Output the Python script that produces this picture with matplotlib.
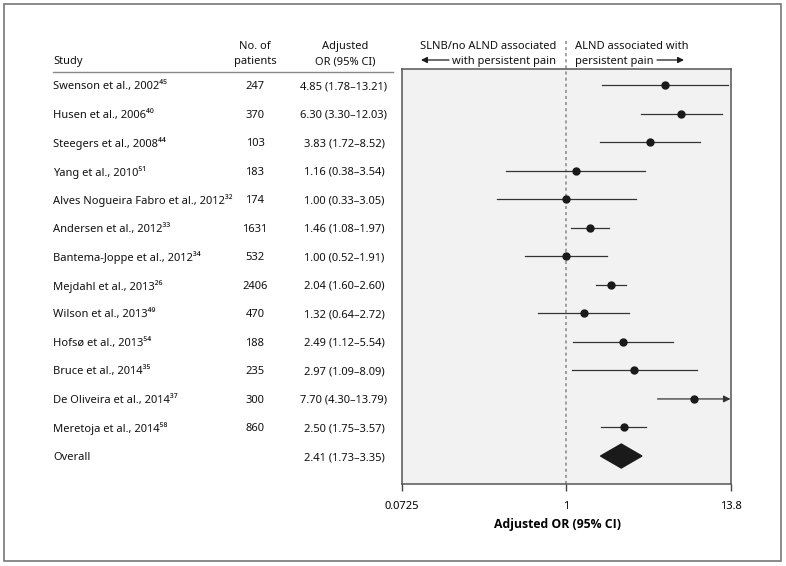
import matplotlib
matplotlib.use('Agg')
import matplotlib.pyplot as plt
import matplotlib.transforms as mtransforms
from matplotlib.patches import Rectangle, Polygon

plt.rcParams['font.family'] = ['Noto Sans', 'DejaVu Sans']

# data
studies = ['Swenson et al., 2002', 'Husen et al., 2006', 'Steegers et al., 2008',
           'Yang et al., 2010', 'Alves Nogueira Fabro et al., 2012', 'Andersen et al., 2012',
           'Bantema-Joppe et al., 2012', 'Mejdahl et al., 2013', 'Wilson et al., 2013',
           'Hofsø et al., 2013', 'Bruce et al., 2014', 'De Oliveira et al., 2014',
           'Meretoja et al., 2014']
refs = ['45', '40', '44', '51', '32', '33', '34', '26', '49', '54', '35', '37', '58']
patients = [247, 370, 103, 183, 174, 1631, 532, 2406, 470, 188, 235, 300, 860]
or_vals = [4.85, 6.30, 3.83, 1.16, 1.00, 1.46, 1.00, 2.04, 1.32, 2.49, 2.97, 7.70, 2.50]
ci_lo = [1.78, 3.30, 1.72, 0.38, 0.33, 1.08, 0.52, 1.60, 0.64, 1.12, 1.09, 4.30, 1.75]
ci_hi = [13.21, 12.03, 8.52, 3.54, 3.05, 1.97, 1.91, 2.60, 2.72, 5.54, 8.09, 13.79, 3.57]
truncated = [False] * 11 + [True, False]
overall_or, overall_lo, overall_hi = 2.41, 1.73, 3.35
xticks = [0.0725, 1, 13.8]
xticklabels = ['0.0725', '1', '13.8']

SUP = str.maketrans('0123456789', '⁰¹²³⁴⁵⁶⁷⁸⁹')

W, H = 786, 566
fig = plt.figure(figsize=(W / 100, H / 100), dpi=100)


def fx(px):
    return px / W


def row(py):
    # pixel y -> row units (row 0 at y=85, spacing 28.54)
    return (py - 85) / 28.54


ax = fig.add_axes([fx(402), 1 - 484 / H, fx(730.5) - fx(402), (484 - 69) / H])
ax.set_xscale('log')
ax.set_xlim(0.0725, 13.8)
ax.set_ylim(row(484), row(69))
ax.set_facecolor('#f2f2f2')
for s in ['top', 'right', 'left', 'bottom']:
    ax.spines[s].set_color('#555555')
    ax.spines[s].set_linewidth(1.1)
ax.set_yticks([])
ax.set_xticks(xticks)
ax.set_xticklabels(xticklabels, fontsize=8)
ax.xaxis.set_minor_locator(matplotlib.ticker.NullLocator())
ax.tick_params(axis='x', direction='out', length=5, width=1, color='#444444', pad=7)
ax.set_xlabel('Adjusted OR (95% CI)', fontsize=8.8, fontweight='bold', labelpad=4,
              family=['Open Sans', 'DejaVu Sans'])
ax.xaxis.set_label_coords((557 - 402) / 328.5, -0.082)

# reference line at OR = 1
ax.plot([1, 1], [row(484), row(38)], ls=(0, (2, 2)), color='#888888', lw=1.1, clip_on=False, zorder=1)

lc = '#333333'
for i in range(len(studies)):
    if truncated[i]:
        ax.annotate('', xy=(13.8, i), xytext=(ci_lo[i], i),
                    arrowprops=dict(arrowstyle='-|>', color=lc, lw=0.9, mutation_scale=10,
                                    shrinkA=0, shrinkB=0), annotation_clip=False)
    else:
        ax.plot([ci_lo[i], ci_hi[i]], [i, i], color=lc, lw=0.9, zorder=2)
    ax.plot(or_vals[i], i, 'o', color='#1a1a1a', ms=5, zorder=3)

n = len(studies)
dia = Polygon([(overall_lo, n), (overall_or, n - 0.42), (overall_hi, n), (overall_or, n + 0.42)],
              closed=True, facecolor='#1a1a1a', edgecolor='#1a1a1a')
ax.add_patch(dia)

# left-hand table
tr = mtransforms.blended_transform_factory(fig.transFigure, ax.transData)
fs = 8
va = 'center_baseline'
for i in range(n):
    ax.text(fx(53), i, studies[i] + refs[i].translate(SUP), transform=tr, fontsize=fs,
            ha='left', va=va, color='#111111', clip_on=False)
    ax.text(fx(255), i, str(patients[i]), transform=tr, fontsize=fs,
            ha='center', va=va, color='#111111', clip_on=False)
    ax.text(fx(344), i, f'{or_vals[i]:.2f} ({ci_lo[i]:.2f}\u2013{ci_hi[i]:.2f})', transform=tr,
            fontsize=fs, ha='center', va=va, color='#111111', clip_on=False)
ax.text(fx(53), n, 'Overall', transform=tr, fontsize=fs, ha='left', va=va,
        color='#111111', clip_on=False)
ax.text(fx(344), n, f'{overall_or:.2f} ({overall_lo:.2f}\u2013{overall_hi:.2f})', transform=tr,
        fontsize=fs, ha='center', va=va, color='#111111', clip_on=False)

# headers
hdr = [(fx(53), row(60), 'Study', 'left'),
       (fx(255), row(45), 'No. of', 'center'),
       (fx(255), row(60), 'patients', 'center'),
       (fx(345), row(45), 'Adjusted', 'center'),
       (fx(345), row(60), 'OR (95% CI)', 'center'),
       (fx(556), row(45), 'SLNB/no ALND associated', 'right'),
       (fx(556), row(60), 'with persistent pain', 'right'),
       (fx(575), row(45), 'ALND associated with', 'left'),
       (fx(575), row(60), 'persistent pain', 'left')]
for x, y, t, ha in hdr:
    ax.text(x, y, t, transform=tr, fontsize=fs, ha=ha, va=va, color='#111111', clip_on=False)
ax.plot([fx(53), fx(393)], [row(72), row(72)], transform=tr, color='#888888', lw=1, clip_on=False)

ax.annotate('', xy=(fx(421), row(60)), xytext=(fx(449), row(60)), xycoords=tr, textcoords=tr,
            arrowprops=dict(arrowstyle='-|>', color='#1a1a1a', lw=0.9, mutation_scale=9,
                            shrinkA=0, shrinkB=0), annotation_clip=False)
ax.annotate('', xy=(fx(684), row(60)), xytext=(fx(657), row(60)), xycoords=tr, textcoords=tr,
            arrowprops=dict(arrowstyle='-|>', color='#1a1a1a', lw=0.9, mutation_scale=9,
                            shrinkA=0, shrinkB=0), annotation_clip=False)

# outer frame
fig.patches.append(Rectangle((fx(4), 1 - 561 / H), fx(777), 557 / H, transform=fig.transFigure,
                             fill=False, edgecolor='#777777', lw=1.2))

fig.savefig('out.png', dpi=100)
